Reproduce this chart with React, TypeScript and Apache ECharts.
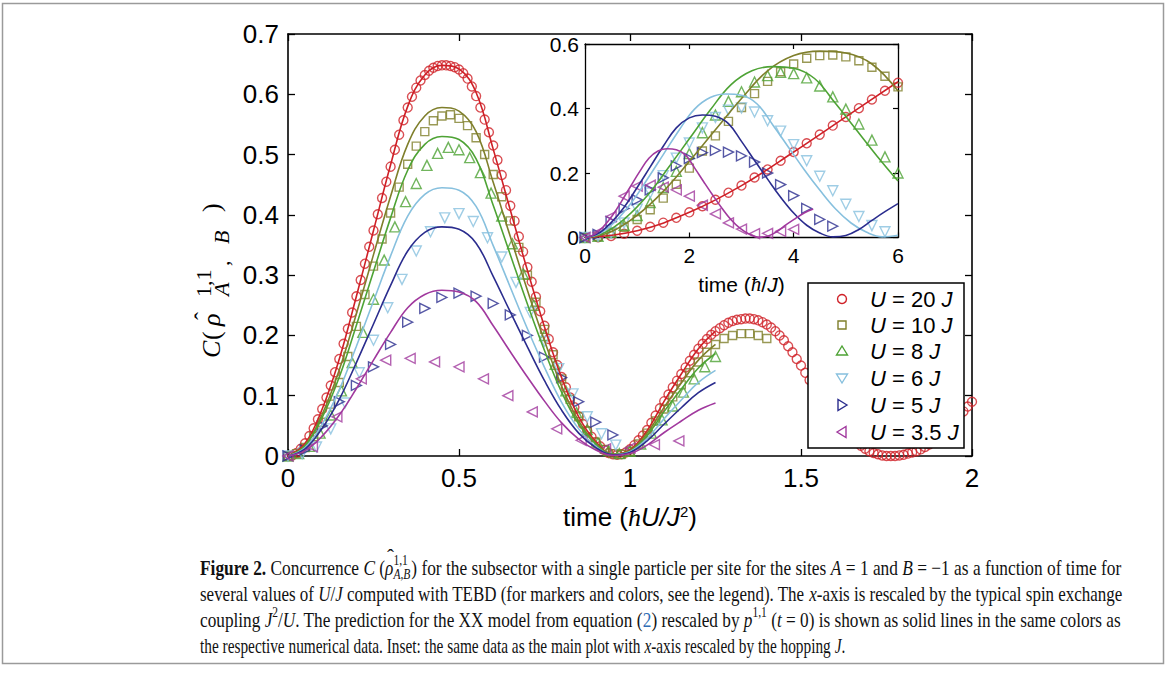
import React, { useEffect, useRef } from 'react';
import * as echarts from 'echarts';

// ---------- data ----------
// Sampling of the XX-model lines (main-plot units ħU/J²)
const LINE_STEP = 0.05;
// Sampling of the TEBD markers in units of ħ/J (main x = t / U)
const MARK_STEP_J = 0.25;

const U_VALUES = [20, 10, 8, 6, 5, 3.5];
const U_LABELS = ['20', '10', '8', '6', '5', '3.5'];
const COLORS = ['#cf2027', '#7f7f2b', '#4ea335', '#87c0de', '#2b2d8e', '#a1399e'];

// XX-model predictions (solid lines), x = i * 0.05
const LINE_U20 = [0, .021, .078, .161, .265, .374, .483, .580, .632, .648, .642, .603, .509, .408, .308, .214, .130, .065, .024, .003, .010, .042, .091, .136, .178, .207];
const LINE_U10 = [0, .018, .069, .143, .236, .334, .431, .517, .564, .578, .572, .538, .454, .364, .275, .191, .116, .058, .021, .003, .009, .038, .081, .121, .159, .185];
const LINE_U8 = [0, .017, .064, .131, .217, .306, .395, .474, .517, .530, .525, .493, .416, .334, .252, .175, .106, .053, .020, .003, .008, .034, .074, .111, .146, .170];
const LINE_U6 = [0, .014, .053, .110, .182, .257, .332, .398, .434, .445, .441, .414, .349, .280, .211, .147, .089, .045, .016, .002, .007, .029, .062, .093, .122, .142];
const LINE_U5 = [0, .012, .046, .094, .155, .219, .283, .340, .371, .380, .376, .353, .298, .239, .181, .125, .076, .038, .014, .002, .006, .025, .053, .080, .105, .122];
const LINE_U35 = [0, .009, .033, .068, .112, .159, .205, .246, .268, .275, .272, .256, .216, .173, .131, .091, .055, .028, .010, .001, .004, .018, .039, .058, .076, .088];

// TEBD data (markers), sample i at t = i * 0.25 ħ/J
const MARK_U20 = [
  0.000, 0.001, 0.005, 0.012, 0.021, 0.033, 0.046, 0.061, 0.078, 0.097, 0.117, 0.139, 0.161, 0.186, 0.211, 0.238,
  0.265, 0.292, 0.319, 0.347, 0.374, 0.401, 0.428, 0.455, 0.480, 0.508, 0.533, 0.557, 0.578, 0.596, 0.611, 0.623,
  0.632, 0.639, 0.644, 0.647, 0.648, 0.648, 0.647, 0.645, 0.641, 0.635, 0.626, 0.613, 0.597, 0.578, 0.558, 0.537,
  0.515, 0.491, 0.466, 0.441, 0.415, 0.390, 0.364, 0.339, 0.313, 0.289, 0.264, 0.240, 0.216, 0.194, 0.172, 0.151,
  0.131, 0.114, 0.097, 0.081, 0.066, 0.053, 0.042, 0.032, 0.023, 0.016, 0.010, 0.005, 0.003, 0.002, 0.003, 0.006,
  0.011, 0.018, 0.026, 0.034, 0.043, 0.055, 0.067, 0.079, 0.091, 0.102, 0.114, 0.125, 0.136, 0.147, 0.158, 0.168,
  0.178, 0.186, 0.194, 0.201, 0.207, 0.212, 0.217, 0.221, 0.224, 0.226, 0.227, 0.228, 0.228, 0.227, 0.225, 0.222,
  0.218, 0.213, 0.207, 0.200, 0.192, 0.182, 0.172, 0.161, 0.150, 0.138, 0.126, 0.114, 0.103, 0.091, 0.080, 0.070,
  0.060, 0.051, 0.042, 0.035, 0.028, 0.022, 0.017, 0.012, 0.008, 0.005, 0.003, 0.001, 0.000, 0.000, 0.000, 0.001,
  0.002, 0.004, 0.006, 0.008, 0.011, 0.015, 0.019, 0.024, 0.030, 0.036, 0.043, 0.050, 0.058, 0.066, 0.074, 0.082,
  0.090,
];
const MARK_U10 = [0, .004, .014, .032, .056, .086, .122, .165, .215, .268, .315, .360, .403, .446, .484, .514, .538, .556, .564, .566, .560, .548, .528, .500, .467, .430, .390, .346, .300, .255, .210, .168, .128, .094, .065, .041, .023, .011, .004, .003, .008, .020, .038, .058, .078, .098, .118, .138, .156, .172, .185, .195, .200, .203, .203, .200, .195];
const MARK_U8 = [0, .004, .016, .038, .068, .108, .155, .205, .260, .325, .380, .422, .452, .482, .502, .512, .508, .495, .470, .436, .398, .352, .302, .250, .200, .152, .108, .072, .044, .022, .009, .004, .008, .020, .038, .060, .083, .106, .128, .148, .165];
const MARK_U6 = [0, .004, .015, .045, .088, .138, .192, .246, .293, .340, .372, .395, .402, .389, .362, .330, .288, .238, .190, .145, .103, .065, .037, .018];
const MARK_U5 = [0, .010, .050, .090, .117, .148, .185, .222, .245, .263, .270, .265, .253, .234, .200, .164, .130, .090, .056, .035];
const MARK_U35 = [0, .015, .065, .128, .159, .162, .156, .148, .128, .100, .073, .045, .026, .012, .013, .019, .025];

const LINES = [LINE_U20, LINE_U10, LINE_U8, LINE_U6, LINE_U5, LINE_U35];
const MARKS = [MARK_U20, MARK_U10, MARK_U8, MARK_U6, MARK_U5, MARK_U35];

const MAIN_X_TICKS = { min: 0, max: 2, interval: 0.5 };
const MAIN_Y_TICKS = { min: 0, max: 0.7, interval: 0.1 };
const INSET_X_TICKS = { min: 0, max: 6, interval: 2 };
const INSET_Y_TICKS = { min: 0, max: 0.6, interval: 0.2 };

// ---------- styles ----------
const SYMBOLS = ['circle', 'rect', 'triangle', 'triangle', 'triangle', 'triangle'];
const ROTATE = [0, 0, 0, 180, -90, 90];
const SIZES = [9, 8, 10, 10, 10, 10];
const SANS = '"Liberation Sans", Arial, sans-serif';
const SERIF = '"Liberation Serif", "Times New Roman", serif';

// caption: fragments [style, text]; 'rho' gets a hat, 'supS' is a sup stacked over the overlay 'A,B'
const CAPTION_LINES: [string, string][][] = [
  [['b', 'Figure 2.'], ['n', ' Concurrence '], ['i', 'C'], ['n', ' ('], ['rho', 'ρ'], ['supS', '1,1'], ['n', ') for the subsector with a single particle per site for the sites '], ['i', 'A'], ['n', ' = 1 and '], ['i', 'B'], ['n', ' = −1 as a function of time for']],
  [['n', 'several values of '], ['i', 'U'], ['n', '/'], ['i', 'J'], ['n', ' computed with TEBD (for markers and colors, see the legend). The '], ['i', 'x'], ['n', '-axis is rescaled by the typical spin exchange']],
  [['n', 'coupling '], ['i', 'J'], ['sup', '2'], ['n', '/'], ['i', 'U'], ['n', '. The prediction for the XX model from equation ('], ['link', '2'], ['n', ') rescaled by '], ['i', 'p'], ['sup', '1,1'], ['n', ' ('], ['i', 't'], ['n', ' = 0) is shown as solid lines in the same colors as']],
  [['n', 'the respective numerical data. Inset: the same data as the main plot with '], ['i', 'x'], ['n', '-axis rescaled by the hopping '], ['i', 'J'], ['n', '.']],
];
const CAPTION_WIDTHS = [921, 923, 921, 645];
const CAPTION_Y = [568, 594, 620, 646];
const CAPTION_X = 200;
const CAP_FS = 21;
const CAP_SUB = 14;
const STACK_SUB = 'A,B';

const capFont: Record<string, string> = {
  n: `${CAP_FS}px ${SERIF}`,
  link: `${CAP_FS}px ${SERIF}`,
  b: `bold ${CAP_FS}px ${SERIF}`,
  i: `italic ${CAP_FS}px ${SERIF}`,
  rho: `italic ${CAP_FS}px ${SERIF}`,
  sup: `${CAP_SUB}px ${SERIF}`,
  supS: `${CAP_SUB}px ${SERIF}`,
  isub: `italic ${CAP_SUB}px ${SERIF}`,
};

let measureCtx: CanvasRenderingContext2D | null = null;
function textW(style: string, t: string) {
  if (!measureCtx) measureCtx = document.createElement('canvas').getContext('2d');
  if (!measureCtx) return t.length * 8;
  measureCtx.font = capFont[style];
  return measureCtx.measureText(t).width;
}

function axis(extra: any) {
  return {
    type: 'value',
    axisLine: { show: true, onZero: false, lineStyle: { color: '#000', width: 1.6 } },
    axisTick: { show: true, inside: true, length: 7, lineStyle: { color: '#000', width: 1.3 } },
    splitLine: { show: false },
    axisLabel: { color: '#000', fontFamily: SANS, fontSize: 26, margin: 9 },
    ...extra,
  };
}

function legendSymbol(k: number, cx: number, cy: number) {
  const style = { fill: 'none', stroke: COLORS[k], lineWidth: 1.4 };
  if (k === 0) return { type: 'circle', shape: { cx, cy, r: 4.5 }, style };
  if (k === 1) return { type: 'rect', shape: { x: cx - 4, y: cy - 4, width: 8, height: 8 }, style };
  const tri: Record<number, number[][]> = {
    2: [[0, -5], [5.5, 4], [-5.5, 4]],
    3: [[0, 5], [5.5, -4], [-5.5, -4]],
    4: [[5, 0], [-4, -5.5], [-4, 5.5]],
    5: [[-5, 0], [4, -5.5], [4, 5.5]],
  };
  return { type: 'polygon', shape: { points: tri[k].map(([x, y]) => [cx + x, cy + y]) }, style };
}

function buildCaption() {
  const els: any[] = [];
  CAPTION_LINES.forEach((frags, li) => {
    const subW = textW('isub', STACK_SUB);
    const widths = frags.map(([s, t]) => {
      const w = textW(s, t);
      return s === 'supS' ? Math.max(w, subW) + 1 : w;
    });
    const total = widths.reduce((a, b) => a + b, 0);
    const sc = CAPTION_WIDTHS[li] / total;
    const y = CAPTION_Y[li];
    const rich: any = {
      n: { fontSize: CAP_FS, fontFamily: SERIF, lineHeight: 28, fill: '#111' },
      link: { fontSize: CAP_FS, fontFamily: SERIF, lineHeight: 28, fill: '#2f6db5' },
      b: { fontSize: CAP_FS, fontFamily: SERIF, fontWeight: 'bold', lineHeight: 28, fill: '#111' },
      i: { fontSize: CAP_FS, fontFamily: SERIF, fontStyle: 'italic', lineHeight: 28, fill: '#111' },
      rho: { fontSize: CAP_FS, fontFamily: SERIF, fontStyle: 'italic', lineHeight: 28, fill: '#111' },
      sup: { fontSize: CAP_SUB, fontFamily: SERIF, lineHeight: 16, verticalAlign: 'top', fill: '#111' },
      supS: { fontSize: CAP_SUB, fontFamily: SERIF, lineHeight: 16, verticalAlign: 'top', fill: '#111', padding: [0, Math.max(0, subW + 1 - textW('supS', '1,1')), 0, 0] },
    };
    els.push({
      type: 'text', x: CAPTION_X, y, scaleX: sc, z: 50,
      style: {
        text: frags.map(([s, t]) => `{${s}|${t}}`).join(''),
        rich, font: capFont.n, fill: '#111', verticalAlign: 'middle', align: 'left',
      },
    });
    let acc = 0;
    frags.forEach(([s], fi) => {
      if (s === 'rho') {
        els.push({
          type: 'text', x: CAPTION_X + (acc + widths[fi] / 2 + 1.5) * sc, y: y - 11, z: 51,
          style: { text: 'ˆ', font: `${CAP_FS}px ${SERIF}`, fill: '#111', align: 'center', verticalAlign: 'middle' },
        });
      }
      if (s === 'supS') {
        els.push({
          type: 'text', x: CAPTION_X + acc * sc, y: y + 7, scaleX: sc, z: 51,
          style: { text: STACK_SUB, font: capFont.isub, fill: '#111', align: 'left', verticalAlign: 'middle' },
        });
      }
      acc += widths[fi];
    });
  });
  return els;
}

export default function App() {
  const ref = useRef<HTMLDivElement>(null);
  useEffect(() => {
    if (!ref.current) return;
    const chart = echarts.init(ref.current, null, { renderer: 'svg' });

    const series: any[] = [];
    U_VALUES.forEach((U, k) => {
      const mainLine = LINES[k].map((y, i) => [i * LINE_STEP, y]);
      const mainMark = MARKS[k].map((y, i) => [(i * MARK_STEP_J) / U, y]);
      const insetLine = LINES[k].map((y, i) => [i * LINE_STEP * U, y]).filter((p) => p[0] <= 6.0001);
      const insetMark = MARKS[k].map((y, i) => [i * MARK_STEP_J, y]).filter((p) => p[0] <= 6.0001);
      const markStyle = {
        type: 'scatter',
        symbol: SYMBOLS[k],
        symbolSize: SIZES[k],
        symbolRotate: ROTATE[k],
        itemStyle: { color: 'rgba(255,255,255,0)', borderColor: COLORS[k], borderWidth: 1.4 },
        silent: true,
        z: 3,
      };
      const lineStyle = {
        type: 'line',
        showSymbol: false,
        smooth: 0.4,
        lineStyle: { color: COLORS[k], width: 1.6 },
        silent: true,
        z: 4,
      };
      series.push({ ...markStyle, name: `m${k}`, xAxisIndex: 0, yAxisIndex: 0, data: mainMark });
      series.push({ ...lineStyle, name: `l${k}`, xAxisIndex: 0, yAxisIndex: 0, data: mainLine });
      series.push({ ...markStyle, name: `im${k}`, xAxisIndex: 2, yAxisIndex: 2, data: insetMark });
      series.push({ ...lineStyle, name: `il${k}`, xAxisIndex: 2, yAxisIndex: 2, data: insetLine });
    });

    const legendX = 808, legendY = 283, legendW = 156, legendH = 165;
    const rowY = [299, 325, 351, 378, 405, 432];
    const legendEls: any[] = [
      { type: 'rect', shape: { x: legendX, y: legendY, width: legendW, height: legendH }, style: { fill: '#fff', stroke: '#000', lineWidth: 1.5 }, z: 100 },
    ];
    U_VALUES.forEach((_, k) => {
      legendEls.push({ ...legendSymbol(k, 842, rowY[k]), z: 101 });
      legendEls.push({
        type: 'text', x: 870, y: rowY[k], z: 101,
        style: {
          text: `{i|U} = ${U_LABELS[k]} {i|J}`,
          font: `22px ${SANS}`, fill: '#000', verticalAlign: 'middle', align: 'left',
          rich: { i: { fontStyle: 'italic', fontSize: 22, fontFamily: SANS, fill: '#000' } },
        },
      });
    });

    const tStyle = (font: string) => ({ font, fill: '#000', verticalAlign: 'middle', align: 'left' });
    const yTitle = {
      type: 'group', x: 211, y: 358, rotation: Math.PI / 2, z: 50,
      children: [
        { type: 'text', x: 0, y: 0, style: { text: 'C', ...tStyle(`italic 26px ${SERIF}`) } },
        { type: 'text', x: 18, y: 0, style: { text: '(', ...tStyle(`26px ${SERIF}`) } },
        { type: 'text', x: 32, y: 0, style: { text: 'ρ', ...tStyle(`italic 26px ${SERIF}`) } },
        { type: 'text', x: 42, y: -8, style: { text: 'ˆ', ...tStyle(`24px ${SERIF}`), align: 'center' } },
        { type: 'text', x: 61, y: -8, style: { text: '1,1', ...tStyle(`22px ${SERIF}`) } },
        { type: 'text', x: 62, y: 10, style: { text: 'A', ...tStyle(`italic 22px ${SERIF}`) } },
        { type: 'text', x: 92, y: 10, style: { text: ',', ...tStyle(`22px ${SERIF}`) } },
        { type: 'text', x: 114, y: 10, style: { text: 'B', ...tStyle(`italic 22px ${SERIF}`) } },
        { type: 'text', x: 146, y: 0, style: { text: ')', ...tStyle(`26px ${SERIF}`) } },
      ],
    };

    const border = { type: 'rect', shape: { x: 2.5, y: 3.5, width: 1161, height: 660 }, style: { fill: 'none', stroke: '#9a9a9a', lineWidth: 1.5 }, z: 0 };

    const insetTick = { show: true, inside: true, length: 5, lineStyle: { color: '#000', width: 1.2 } };
    const insetLineAx = { show: true, onZero: false, lineStyle: { color: '#000', width: 1.3 } };

    const option: any = {
      animation: false,
      backgroundColor: '#fff',
      grid: [
        { left: 288, top: 34, width: 684, height: 422, show: false },
        { left: 585, top: 44, width: 313, height: 193.5, show: true, backgroundColor: '#fff', borderWidth: 0 },
      ],
      xAxis: [
        axis({
          gridIndex: 0, position: 'bottom', ...MAIN_X_TICKS,
          name: 'time ({h|ħ}{i|U/J}{s|2})', nameLocation: 'middle', nameGap: 48,
          nameTextStyle: {
            color: '#000', fontFamily: SANS, fontSize: 26,
            rich: {
              h: { fontFamily: SERIF, fontStyle: 'italic', fontSize: 26, color: '#000' },
              i: { fontFamily: SANS, fontStyle: 'italic', fontSize: 26, color: '#000' },
              s: { fontFamily: SANS, fontSize: 15, verticalAlign: 'top', color: '#000' },
            },
          },
        }),
        axis({ gridIndex: 0, position: 'top', ...MAIN_X_TICKS, axisLabel: { show: false } }),
        axis({
          gridIndex: 1, position: 'bottom', ...INSET_X_TICKS,
          axisLabel: { color: '#000', fontFamily: SANS, fontSize: 21, margin: 7 },
          axisTick: insetTick, axisLine: insetLineAx,
          name: 'time ({h|ħ}/{i|J})', nameLocation: 'middle', nameGap: 36,
          nameTextStyle: {
            color: '#000', fontFamily: SANS, fontSize: 21,
            rich: {
              h: { fontFamily: SERIF, fontStyle: 'italic', fontSize: 21, color: '#000' },
              i: { fontFamily: SANS, fontStyle: 'italic', fontSize: 21, color: '#000' },
            },
          },
        }),
        axis({ gridIndex: 1, position: 'top', ...INSET_X_TICKS, axisLabel: { show: false }, axisTick: insetTick, axisLine: insetLineAx }),
      ],
      yAxis: [
        axis({ gridIndex: 0, position: 'left', ...MAIN_Y_TICKS }),
        axis({ gridIndex: 0, position: 'right', ...MAIN_Y_TICKS, axisLabel: { show: false } }),
        axis({
          gridIndex: 1, position: 'left', ...INSET_Y_TICKS,
          axisLabel: { color: '#000', fontFamily: SANS, fontSize: 21, margin: 6 },
          axisTick: insetTick, axisLine: insetLineAx,
        }),
        axis({ gridIndex: 1, position: 'right', ...INSET_Y_TICKS, axisLabel: { show: false }, axisTick: insetTick, axisLine: insetLineAx }),
      ],
      series,
      graphic: [border, yTitle, ...legendEls, ...buildCaption()],
    };
    chart.setOption(option);
    return () => chart.dispose();
  }, []);
  return <div ref={ref} style={{ position: 'absolute', left: 0, top: 0, width: 1168, height: 677 }} />;
}
